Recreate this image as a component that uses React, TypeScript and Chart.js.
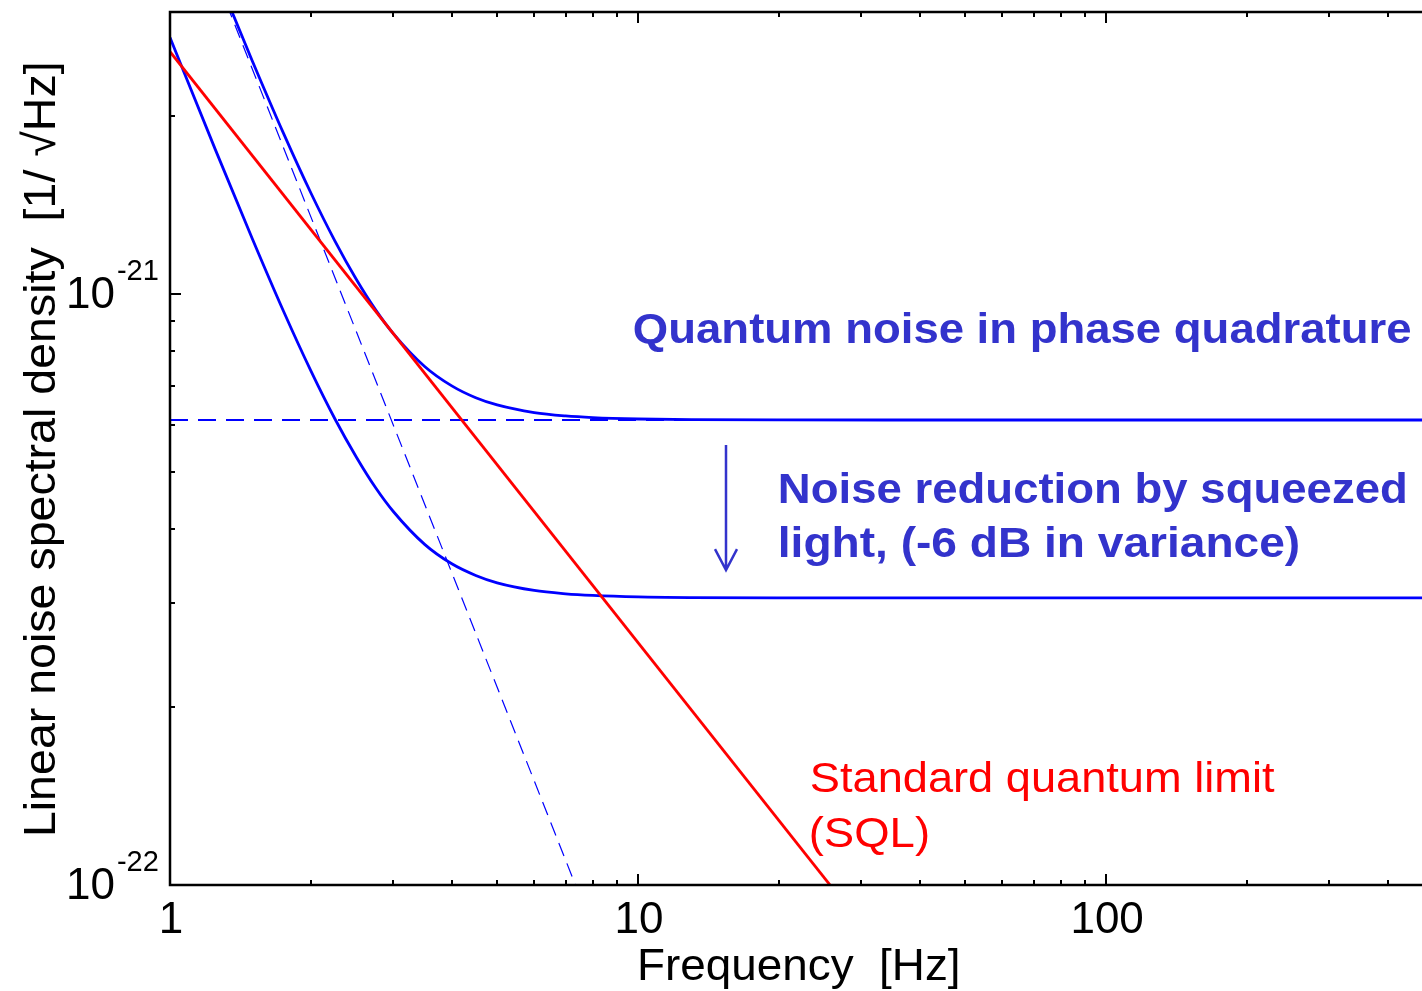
import React, { useEffect, useRef } from "react";
import { Chart, registerables } from "chart.js";

Chart.register(...registerables);

// ---------------- data ----------------
// Quantum noise in phase quadrature (solid blue, upper)
const FREQ_QN = [1, 1.25, 1.5, 1.75, 2, 2.25, 2.5, 2.75, 3, 3.5, 4, 4.5, 5, 6, 7, 8, 10, 13, 20, 50, 100, 473];
const QN_VALUES = [
  5.435e-21, 3.51e-21, 2.477e-21, 1.866e-21, 1.482e-21, 1.23e-21, 1.059e-21, 9.4e-22, 8.57e-22, 7.54e-22,
  6.99e-22, 6.675e-22, 6.49e-22, 6.3e-22, 6.218e-22, 6.178e-22, 6.144e-22, 6.128e-22, 6.122e-22, 6.12e-22,
  6.12e-22, 6.12e-22,
];
// Quantum noise with squeezed light (solid blue, lower)
const SQZ_VALUES = [
  2.717e-21, 1.755e-21, 1.239e-21, 9.33e-22, 7.41e-22, 6.15e-22, 5.3e-22, 4.7e-22, 4.285e-22, 3.77e-22,
  3.495e-22, 3.34e-22, 3.245e-22, 3.15e-22, 3.11e-22, 3.09e-22, 3.072e-22, 3.064e-22, 3.061e-22, 3.06e-22,
  3.06e-22, 3.06e-22,
];
// Standard quantum limit (red)
const FREQ_SQL = [1, 30];
const SQL_VALUES = [2.57e-21, 8.57e-23];
// Radiation pressure noise (thin dashed blue)
const FREQ_RP = [1, 8];
const RP_VALUES = [5.4e-21, 8.44e-23];
// Shot noise (dashed blue, horizontal)
const FREQ_SHOT = [1, 473];
const SHOT_VALUES = [6.12e-22, 6.12e-22];

// axis ticks
const X_MIN = 1;
const X_MAX = 473;
const Y_MIN = 1e-22;
const Y_MAX = 3e-21;
const X_TICK_VALUES = [1, 10, 100];
const X_TICK_LABELS = ["1", "10", "100"];
const Y_TICK_VALUES = [1e-22, 1e-21];
const Y_TICK_EXPONENTS = ["-22", "-21"];

const X_TITLE = "Frequency  [Hz]";
const Y_TITLE = "Linear noise spectral density  [1/ \u221AHz]";

// ---------------- helpers ----------------
const FONT = '"Liberation Sans", Arial, Helvetica, sans-serif';
const TEXT_BLUE = "#3333cc";

function fitText(
  ctx: CanvasRenderingContext2D,
  text: string,
  x: number,
  y: number,
  target: number,
  font: string,
  color: string
) {
  ctx.save();
  ctx.font = font;
  ctx.fillStyle = color;
  ctx.textAlign = "left";
  ctx.textBaseline = "alphabetic";
  const m = ctx.measureText(text);
  const ink = m.actualBoundingBoxLeft + m.actualBoundingBoxRight;
  const s = ink > 0 ? target / ink : 1;
  ctx.translate(x, y);
  ctx.scale(s, 1);
  ctx.fillText(text, m.actualBoundingBoxLeft, 0);
  ctx.restore();
}

const toXY = (xs: number[], ys: number[]) => xs.map((x, i) => ({ x, y: ys[i] }));

const decorPlugin = {
  id: "decor",
  afterDraw(chart: any) {
    const ctx: CanvasRenderingContext2D = chart.ctx;
    const xs = chart.scales.x;
    const ys = chart.scales.y;
    const { left, right, top, bottom } = chart.chartArea;

    ctx.save();
    // frame (left, bottom, top)
    ctx.strokeStyle = "#000";
    ctx.lineWidth = 2.5;
    ctx.beginPath();
    ctx.moveTo(right, top);
    ctx.lineTo(left, top);
    ctx.lineTo(left, bottom);
    ctx.lineTo(right, bottom);
    ctx.stroke();

    // x ticks (bottom + top, inward)
    ctx.lineWidth = 2;
    ctx.beginPath();
    for (let d = 0; d <= 3; d++) {
      for (let m = 1; m <= 9; m++) {
        const v = m * Math.pow(10, d);
        if (v < X_MIN || v > X_MAX * 1.0001) continue;
        const px = Math.round(xs.getPixelForValue(v));
        const len = m === 1 ? 11 : 5;
        ctx.moveTo(px, bottom);
        ctx.lineTo(px, bottom - len);
        ctx.moveTo(px, top);
        ctx.lineTo(px, top + len);
      }
    }
    // y ticks (left, inward)
    for (let d = -22; d <= -21; d++) {
      for (let m = 1; m <= 9; m++) {
        const v = m * Math.pow(10, d);
        if (v < Y_MIN * 0.9999 || v > Y_MAX * 1.0001) continue;
        const py = Math.round(ys.getPixelForValue(v));
        const len = m === 1 ? 11 : 5;
        ctx.moveTo(left, py);
        ctx.lineTo(left + len, py);
      }
    }
    ctx.stroke();

    // x tick labels
    ctx.fillStyle = "#000";
    ctx.font = `44px ${FONT}`;
    ctx.textAlign = "center";
    ctx.textBaseline = "alphabetic";
    X_TICK_VALUES.forEach((v, i) => {
      const px = xs.getPixelForValue(v);
      ctx.fillText(X_TICK_LABELS[i], px + 1, bottom + 48);
    });

    // y tick labels: 10^exp
    Y_TICK_VALUES.forEach((v, i) => {
      const py = ys.getPixelForValue(v);
      ctx.textAlign = "left";
      ctx.font = `44px ${FONT}`;
      ctx.fillText("10", 66, py + 14);
      const w = ctx.measureText("10").width;
      ctx.font = `29px ${FONT}`;
      ctx.fillText(Y_TICK_EXPONENTS[i], 66 + w + 2, py - 14);
    });

    // axis titles
    fitText(ctx, X_TITLE, 640, 980, 318, `45px ${FONT}`, "#000");
    ctx.save();
    ctx.translate(55, 834);
    ctx.rotate(-Math.PI / 2);
    fitText(ctx, Y_TITLE, 0, 0, 770, `45px ${FONT}`, "#000");
    ctx.restore();

    // annotations (anchored in data coordinates)
    const ax = (f: number) => xs.getPixelForValue(f);
    const ay = (v: number) => ys.getPixelForValue(v);

    fitText(ctx, "Quantum noise in phase quadrature", ax(9.8), ay(8.26e-22), 776, `bold 42px ${FONT}`, TEXT_BLUE);
    fitText(ctx, "Noise reduction by squeezed", ax(20.1), ay(4.43e-22), 625, `bold 42px ${FONT}`, TEXT_BLUE);
    fitText(ctx, "light, (-6 dB in variance)", ax(20.1), ay(3.59e-22), 518, `bold 42px ${FONT}`, TEXT_BLUE);
    fitText(ctx, "Standard quantum limit", ax(23.4), ay(1.437e-22), 464, `42px ${FONT}`, "#ff0000");
    fitText(ctx, "(SQL)", ax(23.4), ay(1.16e-22), 117, `42px ${FONT}`, "#ff0000");

    // arrow
    const arX = Math.round(ax(15.42));
    const arTop = ay(5.55e-22);
    const arTip = ay(3.41e-22);
    ctx.strokeStyle = TEXT_BLUE;
    ctx.lineWidth = 2.5;
    ctx.beginPath();
    ctx.moveTo(arX, arTop);
    ctx.lineTo(arX, arTip);
    ctx.moveTo(arX - 11, arTip - 21);
    ctx.lineTo(arX, arTip);
    ctx.lineTo(arX + 11, arTip - 21);
    ctx.stroke();

    ctx.restore();
  },
};

export default function App() {
  const ref = useRef<HTMLCanvasElement>(null);

  useEffect(() => {
    if (!ref.current) return;
    const chart = new Chart(ref.current, {
      type: "line",
      data: {
        datasets: [
          {
            label: "SQL",
            data: toXY(FREQ_SQL, SQL_VALUES),
            borderColor: "#ff0000",
            borderWidth: 2.8,
            pointRadius: 0,
            order: 0,
          },
          {
            label: "Quantum noise",
            data: toXY(FREQ_QN, QN_VALUES),
            borderColor: "#0000ff",
            borderWidth: 2.8,
            pointRadius: 0,
            cubicInterpolationMode: "monotone",
            order: 1,
          },
          {
            label: "Squeezed",
            data: toXY(FREQ_QN, SQZ_VALUES),
            borderColor: "#0000ff",
            borderWidth: 2.8,
            pointRadius: 0,
            cubicInterpolationMode: "monotone",
            order: 1,
          },
          {
            label: "Radiation pressure",
            data: toXY(FREQ_RP, RP_VALUES),
            borderColor: "#0000ff",
            borderWidth: 1.2,
            borderDash: [14, 8],
            pointRadius: 0,
            order: 2,
          },
          {
            label: "Shot noise",
            data: toXY(FREQ_SHOT, SHOT_VALUES),
            borderColor: "#0000ff",
            borderWidth: 1.8,
            borderDash: [18, 10],
            pointRadius: 0,
            order: 2,
          },
        ],
      },
      options: {
        animation: false,
        responsive: false,
        devicePixelRatio: 1,
        parsing: true,
        layout: { padding: { left: 170, top: 12, right: 0, bottom: 106 } },
        plugins: {
          legend: { display: false },
          tooltip: { enabled: false },
        },
        scales: {
          x: { type: "logarithmic", min: X_MIN, max: X_MAX, display: false },
          y: { type: "logarithmic", min: Y_MIN, max: Y_MAX, display: false },
        },
      },
      plugins: [decorPlugin],
    });
    return () => chart.destroy();
  }, []);

  return (
    <div
      style={{
        position: "fixed",
        left: 0,
        top: 0,
        width: 1422,
        height: 991,
        overflow: "hidden",
        background: "#ffffff",
      }}
    >
      <canvas ref={ref} width={1422} height={991} style={{ width: 1422, height: 991, display: "block" }} />
    </div>
  );
}
